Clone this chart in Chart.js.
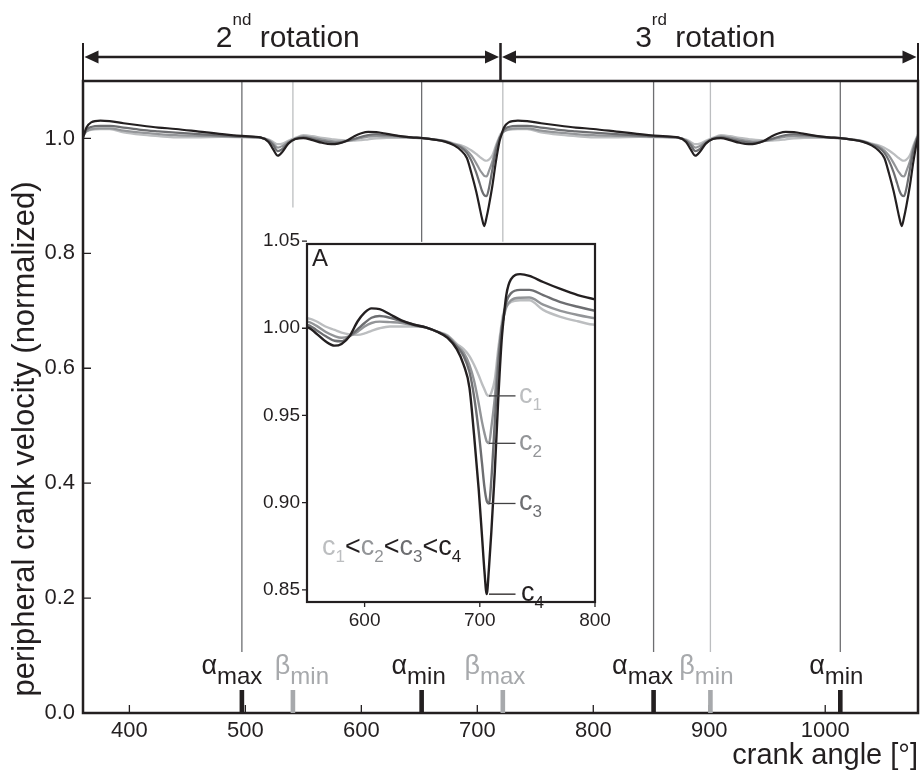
<!DOCTYPE html>
<html>
<head>
<meta charset="utf-8">
<script src="https://cdn.jsdelivr.net/npm/chart.js@4.4.0/dist/chart.umd.min.js"></script>
<style>
  html, body { margin: 0; padding: 0; background: #fff; }
  #wrap { position: relative; width: 920px; height: 771px; }
  #main { position: absolute; left: 0; top: 0; }
  #inset { position: absolute; left: 230px; top: 225px; }
</style>
</head>
<body>
<div id="wrap">
  <canvas id="main" width="920" height="771"></canvas>
  <canvas id="inset" width="390" height="415"></canvas>
</div>
<script>
// crank angle (deg), 2nd + 3rd rotation
const crankAngle = [
  360, 363, 367, 375, 383, 395, 410, 425, 440, 460, 480, 500, 513, 520, 524, 528, 532, 537, 543, 550,
  558, 566, 574, 580, 587, 594, 600, 606, 613, 622, 632, 643, 653, 663, 672, 680, 686, 691, 695, 699,
  702, 704, 706, 708, 710, 713, 716, 719,
  720, 723, 727, 735, 743, 755, 770, 785, 800, 820, 840, 860, 873, 880, 884, 888, 892, 897, 903, 910,
  918, 926, 934, 940, 947, 954, 960, 966, 973, 982, 992, 1003, 1013, 1023, 1032, 1040, 1046, 1051, 1055, 1059,
  1062, 1064, 1066, 1068, 1070, 1073, 1076, 1079, 1080
];
// normalized peripheral crank velocity, c1 (lowest) .. c4 (highest)
const velC1 = [
  1.0075, 1.0125, 1.015, 1.016, 1.016, 1.0105, 1.0065, 1.004, 1.002, 1.002, 1.0025, 1.002, 1.001, 0.998, 0.994, 0.990, 0.991, 0.996, 1.001, 1.0057,
  1.004, 1.001, 0.999, 0.9975, 0.9965, 0.9962, 0.997, 0.9985, 1.000, 1.001, 1.001, 1.001, 1.0005, 0.998, 0.996, 0.991, 0.988, 0.984, 0.979, 0.973,
  0.968, 0.965, 0.962, 0.9612, 0.963, 0.9706, 0.988, 1.003,
  1.0075, 1.0125, 1.015, 1.016, 1.016, 1.0105, 1.0065, 1.004, 1.002, 1.002, 1.0025, 1.002, 1.001, 0.998, 0.994, 0.990, 0.991, 0.996, 1.001, 1.0057,
  1.004, 1.001, 0.999, 0.9975, 0.9965, 0.9962, 0.997, 0.9985, 1.000, 1.001, 1.001, 1.001, 1.0005, 0.998, 0.996, 0.991, 0.988, 0.984, 0.979, 0.973,
  0.968, 0.965, 0.962, 0.9612, 0.963, 0.9706, 0.988, 1.003, 1.0075
];
const velC2 = [
  1.004, 1.012, 1.016, 1.0175, 1.0176, 1.0135, 1.010, 1.0076, 1.0057, 1.0045, 1.0035, 1.0025, 1.0015, 0.997, 0.991, 0.984, 0.987, 0.994, 1.000, 1.0038,
  1.0015, 0.998, 0.9955, 0.9945, 0.9955, 0.998, 1.001, 1.003, 1.0038, 1.0035, 1.003, 1.0015, 1.0005, 0.998, 0.9955, 0.990, 0.986, 0.979, 0.970, 0.957,
  0.946, 0.940, 0.935, 0.934, 0.943, 0.960, 0.984, 1.000,
  1.004, 1.012, 1.016, 1.0175, 1.0176, 1.0135, 1.010, 1.0076, 1.0057, 1.0045, 1.0035, 1.0025, 1.0015, 0.997, 0.991, 0.984, 0.987, 0.994, 1.000, 1.0038,
  1.0015, 0.998, 0.9955, 0.9945, 0.9955, 0.998, 1.001, 1.003, 1.0038, 1.0035, 1.003, 1.0015, 1.0005, 0.998, 0.9955, 0.990, 0.986, 0.979, 0.970, 0.957,
  0.946, 0.940, 0.935, 0.934, 0.943, 0.960, 0.984, 1.000, 1.004
];
const velC3 = [
  1.004, 1.015, 1.020, 1.022, 1.022, 1.019, 1.015, 1.0123, 1.010, 1.0075, 1.005, 1.003, 1.0015, 0.996, 0.988, 0.978, 0.982, 0.992, 0.999, 1.0019,
  0.999, 0.9955, 0.9928, 0.9925, 0.9955, 0.9995, 1.003, 1.006, 1.007, 1.006, 1.004, 1.002, 1.0005, 0.998, 0.995, 0.9895, 0.984, 0.975, 0.961, 0.941,
  0.922, 0.909, 0.901, 0.8995, 0.913, 0.946, 0.978, 1.000,
  1.004, 1.015, 1.020, 1.022, 1.022, 1.019, 1.015, 1.0123, 1.010, 1.0075, 1.005, 1.003, 1.0015, 0.996, 0.988, 0.978, 0.982, 0.992, 0.999, 1.0019,
  0.999, 0.9955, 0.9928, 0.9925, 0.9955, 0.9995, 1.003, 1.006, 1.007, 1.006, 1.004, 1.002, 1.0005, 0.998, 0.995, 0.9895, 0.984, 0.975, 0.961, 0.941,
  0.922, 0.909, 0.901, 0.8995, 0.913, 0.946, 0.978, 1.000, 1.004
];
const velC4 = [
  1.001, 1.019, 1.028, 1.031, 1.030, 1.0265, 1.0225, 1.019, 1.0165, 1.012, 1.0075, 1.004, 1.002, 0.994, 0.981, 0.970, 0.977, 0.991, 0.999, 1.0006,
  0.997, 0.9925, 0.990, 0.991, 0.9955, 1.004, 1.009, 1.0114, 1.011, 1.008, 1.0045, 1.002, 1.0005, 0.998, 0.9945, 0.988, 0.979, 0.966, 0.939, 0.908,
  0.880, 0.861, 0.8475, 0.863, 0.883, 0.9176, 0.9593, 0.9934,
  1.001, 1.019, 1.028, 1.031, 1.030, 1.0265, 1.0225, 1.019, 1.0165, 1.012, 1.0075, 1.004, 1.002, 0.994, 0.981, 0.970, 0.977, 0.991, 0.999, 1.0006,
  0.997, 0.9925, 0.990, 0.991, 0.9955, 1.004, 1.009, 1.0114, 1.011, 1.008, 1.0045, 1.002, 1.0005, 0.998, 0.9945, 0.988, 0.979, 0.966, 0.939, 0.908,
  0.880, 0.861, 0.8475, 0.863, 0.883, 0.9176, 0.9593, 0.9934, 1.001
];

const xTicksMain = [400, 500, 600, 700, 800, 900, 1000];
const yTicksMain = [0, 0.2, 0.4, 0.6, 0.8, 1.0];
const xTicksInset = [600, 700, 800];
const yTicksInset = [0.85, 0.90, 0.95, 1.00, 1.05];

// rotation brackets in the header
const rotStart = [360, 720];
const rotEnd = [720, 1080];
const rotOrdinal = ["2", "3"];
const rotSuffix = ["nd", "rd"];

// alpha / beta marks on the angle axis
const markAngle = [497, 541, 652, 722, 852, 901, 1013];
const markSymbol = ["α", "β", "α", "β", "α", "β", "α"];
const markSub = ["max", "min", "min", "max", "max", "min", "min"];

const seriesNames = ["c1", "c2", "c3", "c4"];
const seriesVals = [velC1, velC2, velC3, velC4];
const seriesColors = ["#bcbec0", "#939598", "#6d6e71", "#231f20"];

const FONT = '"Liberation Sans", Arial, Helvetica, sans-serif';
const INK = "#231f20";
const DARK_MARK = "#231f20";
const LIGHT_MARK = "#a7a9ac";

Chart.defaults.font.family = FONT;
Chart.defaults.color = INK;

const makeDatasets = (width) =>
  seriesVals.map((vals, i) => ({
    label: seriesNames[i],
    data: crankAngle.map((a, k) => ({ x: a, y: vals[k] })),
    borderColor: seriesColors[i],
    borderWidth: width,
    pointRadius: 0,
    fill: false,
    cubicInterpolationMode: "monotone",
    order: seriesVals.length - i, // c4 on top
  }));

// writes a list of [text, size, dy, color] pieces one after another
const drawPieces = (ctx, pieces, x, y) => {
  let cx = x;
  pieces.forEach(([t, size, dy, color]) => {
    ctx.font = `${size}px ${FONT}`;
    ctx.fillStyle = color;
    ctx.fillText(t, cx, y + dy);
    cx += ctx.measureText(t).width;
  });
  return cx - x;
};
const piecesWidth = (ctx, pieces) => {
  let w = 0;
  pieces.forEach(([t, size]) => {
    ctx.font = `${size}px ${FONT}`;
    w += ctx.measureText(t).width;
  });
  return w;
};

const mainDecor = {
  id: "mainDecor",
  beforeDatasetsDraw(chart) {
    const { ctx, chartArea: a, scales: { x, y } } = chart;
    ctx.save();
    ctx.lineWidth = 1.3;
    markAngle.forEach((ang, i) => {
      const px = x.getPixelForValue(ang);
      // lines inside the inset's span stop under it, the one at 541 stops short
      let endVal = 0.106;
      if (ang === 541) endVal = 0.88;
      if (ang === 652 || ang === 722) endVal = 0.82;
      ctx.strokeStyle = markSymbol[i] === "α" ? "#6d6e71" : "#bcbec0";
      ctx.beginPath();
      ctx.moveTo(px, a.top);
      ctx.lineTo(px, y.getPixelForValue(endVal));
      ctx.stroke();
    });
    ctx.restore();
  },
  afterDraw(chart) {
    const { ctx, chartArea: a, scales: { x, y } } = chart;
    ctx.save();
    // frame
    ctx.strokeStyle = INK;
    ctx.lineWidth = 2.5;
    ctx.strokeRect(a.left, a.top, a.right - a.left, a.bottom - a.top);
    // inward ticks
    ctx.lineWidth = 1.3;
    ctx.beginPath();
    x.ticks.forEach((t) => {
      const px = x.getPixelForValue(t.value);
      ctx.moveTo(px, a.bottom);
      ctx.lineTo(px, a.bottom - 8);
    });
    y.ticks.forEach((t) => {
      const py = y.getPixelForValue(t.value);
      ctx.moveTo(a.left, py);
      ctx.lineTo(a.left + 8, py);
    });
    ctx.stroke();

    // y axis title
    ctx.save();
    ctx.translate(34, 439);
    ctx.rotate(-Math.PI / 2);
    ctx.textAlign = "center";
    ctx.textBaseline = "alphabetic";
    ctx.fillStyle = INK;
    ctx.font = `31px ${FONT}`;
    ctx.fillText("peripheral crank velocity (normalized)", 0, 0);
    ctx.restore();

    // header: rotation brackets
    const arrowY = 57;
    ctx.lineWidth = 2;
    rotStart.forEach((s, i) => {
      const x0 = x.getPixelForValue(s);
      const x1 = x.getPixelForValue(rotEnd[i]);
      ctx.strokeStyle = INK;
      ctx.fillStyle = INK;
      ctx.beginPath();
      ctx.moveTo(x0, 43); ctx.lineTo(x0, a.top);
      ctx.moveTo(x1, 43); ctx.lineTo(x1, a.top);
      ctx.stroke();
      ctx.lineWidth = 2.5;
      ctx.beginPath();
      ctx.moveTo(x0 + 10, arrowY); ctx.lineTo(x1 - 10, arrowY);
      ctx.stroke();
      ctx.lineWidth = 2;
      [[x0 + 1.5, 1], [x1 - 1.5, -1]].forEach(([tip, dir]) => {
        ctx.beginPath();
        ctx.moveTo(tip, arrowY);
        ctx.lineTo(tip + dir * 14, arrowY - 6.5);
        ctx.lineTo(tip + dir * 14, arrowY + 6.5);
        ctx.closePath();
        ctx.fill();
      });
      const pieces = [
        [rotOrdinal[i], 30, 0, INK],
        [rotSuffix[i], 17, -22, INK],
        [" rotation", 30, 0, INK],
      ];
      const w = piecesWidth(ctx, pieces);
      ctx.textBaseline = "alphabetic";
      ctx.textAlign = "left";
      drawPieces(ctx, pieces, (x0 + x1) / 2 - 4 - w / 2, 47);
    });

    // alpha / beta marks
    const shift = [-10, 9, -3, -8, -11, -4, -4];
    markAngle.forEach((ang, i) => {
      const px = x.getPixelForValue(ang);
      const col = markSymbol[i] === "α" ? DARK_MARK : LIGHT_MARK;
      ctx.fillStyle = col;
      ctx.fillRect(px - 2.3, a.bottom - 23, 4.6, 23);
      const pieces = [
        [markSymbol[i], 27, 0, col],
        [markSub[i], 24, 10, col],
      ];
      const w = piecesWidth(ctx, pieces);
      drawPieces(ctx, pieces, px + shift[i] - w / 2, a.bottom - 39);
    });
    ctx.restore();
  },
};

const mainChart = new Chart(document.getElementById("main"), {
  type: "line",
  data: { datasets: makeDatasets(2.2) },
  options: {
    responsive: false,
    animation: false,
    devicePixelRatio: 1,
    layout: { padding: { top: 81, right: 2, left: 0, bottom: 0 } },
    plugins: { legend: { display: false }, tooltip: { enabled: false } },
    scales: {
      x: {
        type: "linear",
        min: 360,
        max: 1080,
        afterBuildTicks: (s) => { s.ticks = xTicksMain.map((v) => ({ value: v })); },
        afterFit: (s) => { s.height = 58; },
        grid: { display: false, drawTicks: false },
        border: { display: false },
        ticks: { font: { size: 22 }, color: INK, padding: 5, maxRotation: 0, callback: (v) => String(v) },
        title: { display: true, text: "crank angle [°]", align: "end", color: INK, font: { size: 29 }, padding: { top: 0, bottom: -2 } },
      },
      y: {
        type: "linear",
        min: 0,
        max: 1.1,
        afterBuildTicks: (s) => { s.ticks = yTicksMain.map((v) => ({ value: v })); },
        afterFit: (s) => { s.width = 83; },
        grid: { display: false, drawTicks: false },
        border: { display: false },
        ticks: { font: { size: 22 }, color: INK, padding: 8, callback: (v) => v.toFixed(1) },
      },
    },
  },
  plugins: [mainDecor],
});

const insetDecor = {
  id: "insetDecor",
  beforeDraw(chart) {
    const { ctx, chartArea: a } = chart;
    ctx.save();
    ctx.fillStyle = "#fff";
    ctx.fillRect(a.left, a.top, a.right - a.left, a.bottom - a.top);
    ctx.restore();
  },
  afterDraw(chart) {
    const { ctx, chartArea: a, scales: { x, y } } = chart;
    ctx.save();
    ctx.strokeStyle = INK;
    ctx.lineWidth = 2.2;
    ctx.strokeRect(a.left, a.top, a.right - a.left, a.bottom - a.top);
    ctx.lineWidth = 1.3;
    ctx.beginPath();
    x.ticks.forEach((t) => {
      const px = x.getPixelForValue(t.value);
      ctx.moveTo(px, a.bottom);
      ctx.lineTo(px, a.bottom + 5);
    });
    y.ticks.forEach((t) => {
      const py = y.getPixelForValue(t.value);
      ctx.moveTo(a.left, py);
      ctx.lineTo(a.left - 5, py);
    });
    ctx.stroke();

    // leaders to each curve's dip
    ctx.textBaseline = "alphabetic";
    ctx.textAlign = "left";
    seriesVals.forEach((vals, i) => {
      const lo = Math.min(...vals);
      const py = y.getPixelForValue(lo);
      ctx.strokeStyle = i === 3 ? INK : "#414042";
      ctx.lineWidth = 1.3;
      ctx.beginPath();
      ctx.moveTo(x.getPixelForValue(708), py);
      ctx.lineTo(x.getPixelForValue(731), py);
      ctx.stroke();
      drawPieces(ctx, [
        ["c", 27, 0, seriesColors[i]],
        [seriesNames[i].slice(1), 17, 7, seriesColors[i]],
      ], x.getPixelForValue(734) + (i === 3 ? 2 : 0), py + 7);
    });

    // c1<c2<c3<c4
    const ineq = [];
    seriesNames.forEach((n, i) => {
      ineq.push(["c", 27, 0, seriesColors[i]]);
      ineq.push([n.slice(1), 17, 7, seriesColors[i]]);
      if (i < 3) ineq.push(["<", 27, 0, INK]);
    });
    drawPieces(ctx, ineq, a.left + 15, a.bottom - 47);

    // panel letter
    ctx.fillStyle = INK;
    ctx.font = `24px ${FONT}`;
    ctx.fillText("A", a.left + 5, a.top + 22);
    ctx.restore();
  },
};

const insetChart = new Chart(document.getElementById("inset"), {
  type: "line",
  data: { datasets: makeDatasets(2.4) },
  options: {
    responsive: false,
    animation: false,
    devicePixelRatio: 1,
    layout: { padding: { top: 19, right: 25, left: 0, bottom: 0 } },
    plugins: { legend: { display: false }, tooltip: { enabled: false } },
    scales: {
      x: {
        type: "linear",
        min: 550,
        max: 800,
        afterBuildTicks: (s) => { s.ticks = xTicksInset.map((v) => ({ value: v })); },
        afterFit: (s) => { s.height = 38; },
        grid: { display: false, drawTicks: false },
        border: { display: false },
        ticks: { font: { size: 19 }, color: INK, padding: 7, maxRotation: 0, callback: (v) => String(v) },
      },
      y: {
        type: "linear",
        min: 0.843,
        max: 1.0483,
        afterBuildTicks: (s) => { s.ticks = yTicksInset.map((v) => ({ value: v })); },
        afterFit: (s) => { s.width = 77; },
        grid: { display: false, drawTicks: false },
        border: { display: false },
        ticks: { font: { size: 19 }, color: INK, padding: 7, callback: (v) => v.toFixed(2) },
      },
    },
  },
  plugins: [insetDecor],
});
</script>
</body>
</html>
